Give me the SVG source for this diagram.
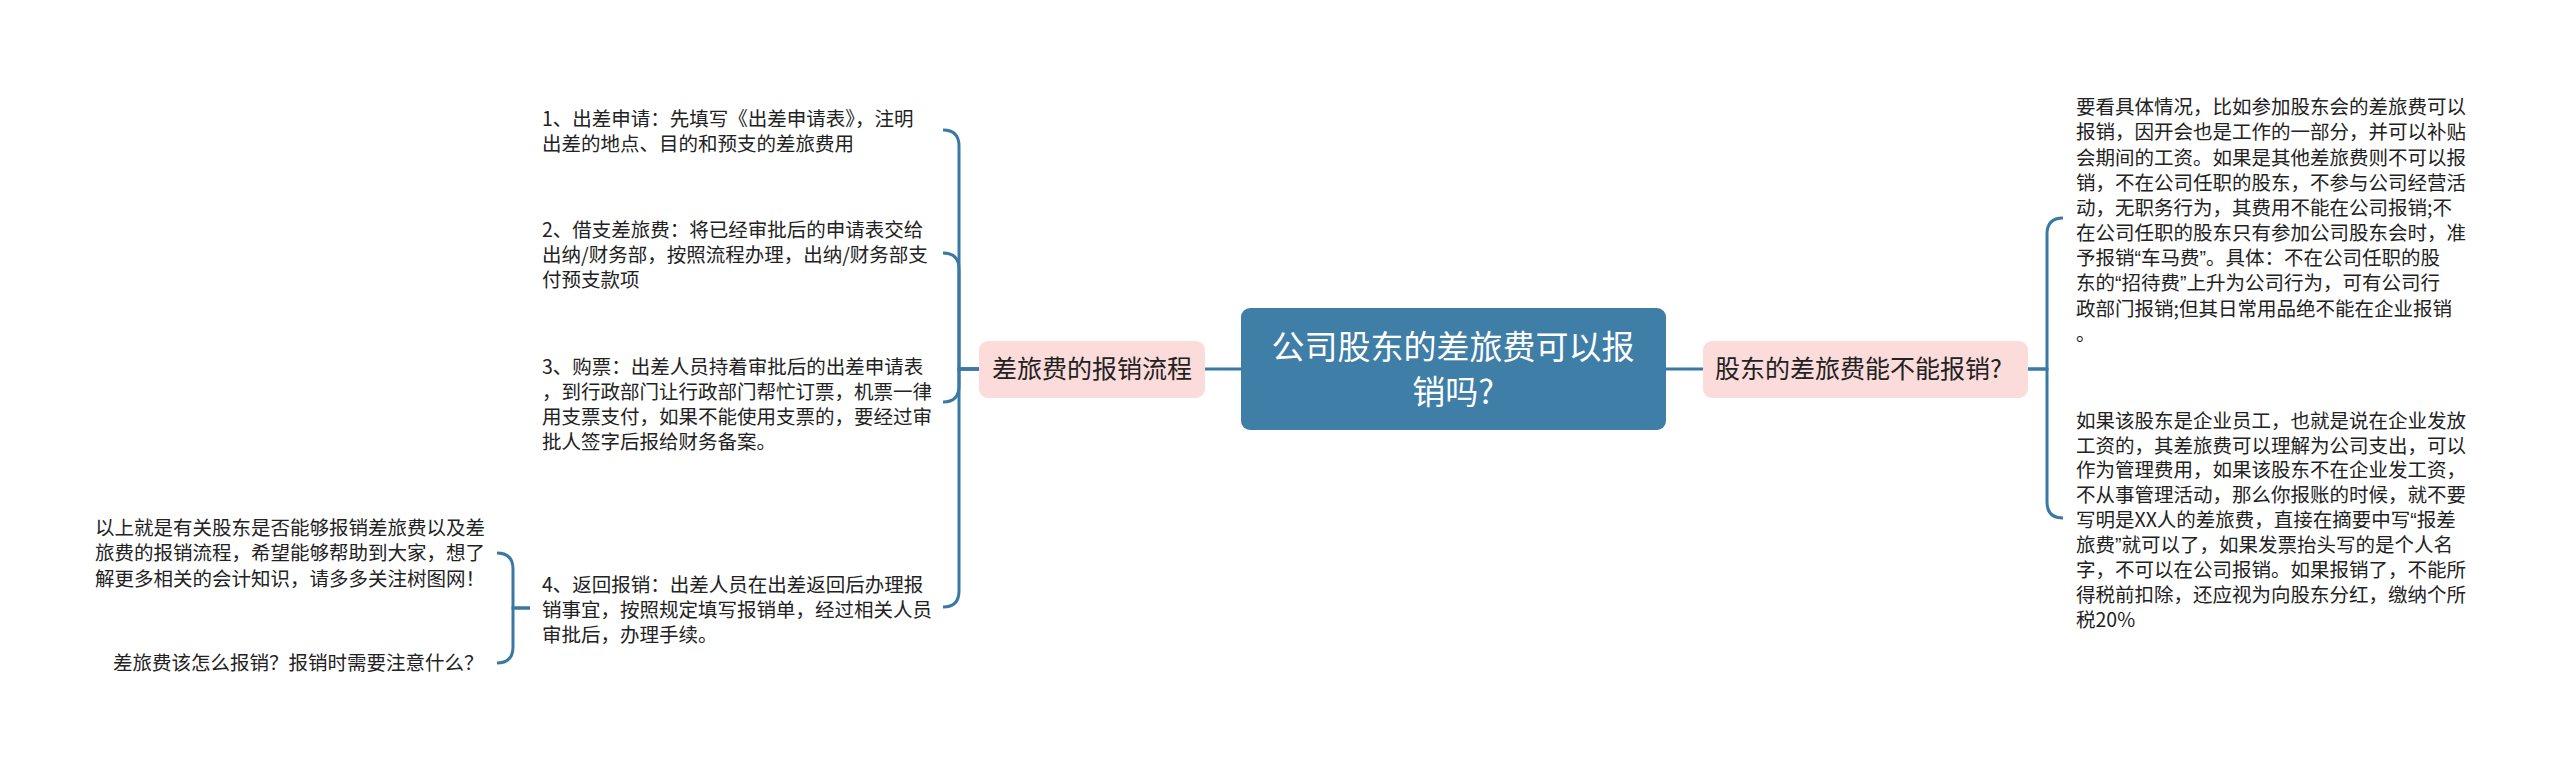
<svg xmlns="http://www.w3.org/2000/svg" width="2560" height="771" viewBox="0 0 2560 771">
<style>
.t{font-family:"Noto Sans CJK SC","Noto Sans",sans-serif;font-size:19.5px;fill:#222}
.q{font-family:"Liberation Sans","Noto Sans CJK SC",sans-serif}
.c{fill:none;stroke:#3b78a3;stroke-width:3}
.sub{fill:#fbdcdb}
.st{font-family:"Noto Sans CJK SC","Noto Sans",sans-serif;font-size:25px;fill:#222}
.mt{font-family:"Noto Sans CJK SC","Noto Sans",sans-serif;font-size:33px;fill:#fff}
</style>
<rect width="2560" height="771" fill="#fff"/>
<g id="connectors">
<path class="c" d="M1205,369 H1241"/>
<path class="c" d="M1666,369 H1703"/>
<path class="c" d="M979,369 H959 V146 Q959,130 943,130"/>
<path class="c" d="M979,369 H959 V269 Q959,253 943,253"/>
<path class="c" d="M979,369 H959 V386 Q959,402 943,402"/>
<path class="c" d="M979,369 H959 V591 Q959,607 943,607"/>
<path class="c" d="M2028,369 H2047 V234 Q2047,218 2063,218"/>
<path class="c" d="M2028,369 H2047 V502 Q2047,518 2063,518"/>
<path class="c" d="M530,608 H513 V569 Q513,553 497,553"/>
<path class="c" d="M530,608 H513 V647 Q513,663 497,663"/>
</g>
<g id="root">
<rect x="1241" y="308" width="425" height="122" rx="9" fill="#3f7ea7"/>
<text class="mt" x="1453" y="359" text-anchor="middle">公司股东的差旅费可以报</text>
<text class="mt" x="1453" y="404" text-anchor="middle">销吗?</text>
</g>
<g id="left-branch">
<rect class="sub" x="979" y="341" width="226" height="57" rx="9"/>
<text class="st" x="1092" y="378" text-anchor="middle">差旅费的报销流程</text>
</g>
<g id="right-branch">
<rect class="sub" x="1703" y="341" width="325" height="57" rx="9"/>
<text class="st" x="1715" y="378">股东的差旅费能不能报销?</text>
</g>
<g id="item1">
<text class="t" x="542" y="126">1、出差申请：先填写《出差申请表》，注明</text>
<text class="t" x="542" y="151">出差的地点、目的和预支的差旅费用</text>
</g>
<g id="item2">
<text class="t" x="542" y="237">2、借支差旅费：将已经审批后的申请表交给</text>
<text class="t" x="542" y="262">出纳/财务部，按照流程办理，出纳/财务部支</text>
<text class="t" x="542" y="287">付预支款项</text>
</g>
<g id="item3">
<text class="t" x="542" y="374">3、购票：出差人员持着审批后的出差申请表</text>
<text class="t" x="542" y="399">，到行政部门让行政部门帮忙订票，机票一律</text>
<text class="t" x="542" y="424">用支票支付，如果不能使用支票的，要经过审</text>
<text class="t" x="542" y="449">批人签字后报给财务备案。</text>
</g>
<g id="item4">
<text class="t" x="542" y="592">4、返回报销：出差人员在出差返回后办理报</text>
<text class="t" x="542" y="617">销事宜，按照规定填写报销单，经过相关人员</text>
<text class="t" x="542" y="642">审批后，办理手续。</text>
</g>
<g id="summary">
<text class="t" x="95" y="535">以上就是有关股东是否能够报销差旅费以及差</text>
<text class="t" x="95" y="560">旅费的报销流程，希望能够帮助到大家，想了</text>
<text class="t" x="95" y="586">解更多相关的会计知识，请多多关注树图网！</text>
</g>
<g id="question">
<text class="t" x="113" y="670">差旅费该怎么报销？报销时需要注意什么？</text>
</g>
<g id="right1">
<text class="t" x="2076" y="114">要看具体情况，比如参加股东会的差旅费可以</text>
<text class="t" x="2076" y="139">报销，因开会也是工作的一部分，并可以补贴</text>
<text class="t" x="2076" y="165">会期间的工资。如果是其他差旅费则不可以报</text>
<text class="t" x="2076" y="190">销，不在公司任职的股东，不参与公司经营活</text>
<text class="t" x="2076" y="215">动，无职务行为，其费用不能在公司报销;不</text>
<text class="t" x="2076" y="240">在公司任职的股东只有参加公司股东会时，准</text>
<text class="t" x="2076" y="265">予报销<tspan class="q">“</tspan>车马费<tspan class="q">”</tspan>。具体：不在公司任职的股</text>
<text class="t" x="2076" y="290">东的<tspan class="q">“</tspan>招待费<tspan class="q">”</tspan>上升为公司行为，可有公司行</text>
<text class="t" x="2076" y="316">政部门报销;但其日常用品绝不能在企业报销</text>
<text class="t" x="2076" y="341">。</text>
</g>
<g id="right2">
<text class="t" x="2076" y="428">如果该股东是企业员工，也就是说在企业发放</text>
<text class="t" x="2076" y="453">工资的，其差旅费可以理解为公司支出，可以</text>
<text class="t" x="2076" y="477">作为管理费用，如果该股东不在企业发工资，</text>
<text class="t" x="2076" y="502">不从事管理活动，那么你报账的时候，就不要</text>
<text class="t" x="2076" y="527">写明是XX人的差旅费，直接在摘要中写<tspan class="q">“</tspan>报差</text>
<text class="t" x="2076" y="552">旅费<tspan class="q">”</tspan>就可以了，如果发票抬头写的是个人名</text>
<text class="t" x="2076" y="577">字，不可以在公司报销。如果报销了，不能所</text>
<text class="t" x="2076" y="602">得税前扣除，还应视为向股东分红，缴纳个所</text>
<text class="t" x="2076" y="627">税20%</text>
</g>
</svg>
